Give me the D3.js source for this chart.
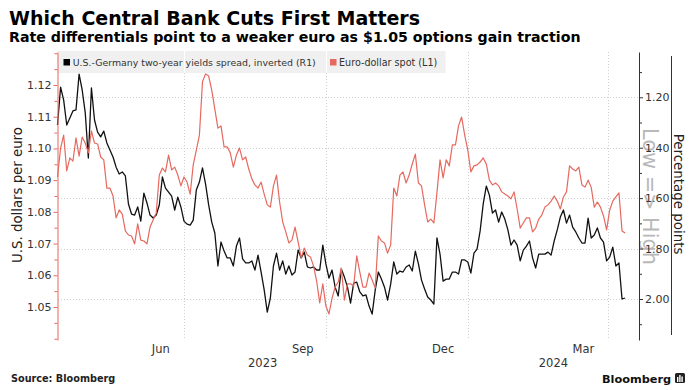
<!DOCTYPE html>
<html>
<head>
<meta charset="utf-8">
<script src="https://cdn.jsdelivr.net/npm/d3@7"></script>
<style>
  body { margin: 0; background: #fff; }
  svg { display: block; }
  text { font-family: "DejaVu Sans", sans-serif; }
</style>
</head>
<body>
<svg id="grafico" width="694" height="390"></svg>
<script>
// series sampled every 2 days from the first date
const start_day = "2023-04-10";
const step_days = 2;

// U.S.-Germany 2y spread, percentage points (right axis, inverted)
const spread_values = [
  1.310, 1.160, 1.211, 1.310, 1.282, 1.254, 1.250, 1.108, 1.171, 1.262,
  1.441, 1.163, 1.290, 1.338, 1.357, 1.334, 1.381, 1.409, 1.437, 1.477,
  1.504, 1.496, 1.512, 1.623, 1.663, 1.667, 1.635, 1.691, 1.580, 1.619,
  1.667, 1.679, 1.667, 1.627, 1.516, 1.560, 1.576, 1.592, 1.647, 1.596,
  1.635, 1.691, 1.703, 1.707, 1.687, 1.568, 1.536, 1.480, 1.544, 1.627,
  1.695, 1.738, 1.869, 1.774, 1.810, 1.837, 1.837, 1.869, 1.790, 1.758,
  1.841, 1.857, 1.857, 1.849, 1.885, 1.826, 1.893, 1.964, 2.052, 1.996,
  1.869, 1.818, 1.885, 1.849, 1.901, 1.869, 1.905, 1.893, 1.806, 1.837,
  1.814, 1.873, 1.877, 1.873, 1.885, 1.885, 1.786, 1.861, 1.917, 1.885,
  1.953, 1.988, 1.881, 1.913, 1.953, 2.016, 1.937, 1.933, 1.972, 1.988,
  1.984, 2.028, 2.060, 1.964, 1.893, 1.921, 1.953, 2.004, 1.941, 1.853,
  1.901, 1.889, 1.893, 1.873, 1.865, 1.889, 1.810, 1.861, 1.925, 1.960,
  1.992, 2.004, 2.020, 1.758, 1.822, 1.929, 1.921, 1.921, 1.893, 1.893,
  1.901, 1.845, 1.845, 1.853, 1.897, 1.818, 1.802, 1.730, 1.623, 1.552,
  1.588, 1.659, 1.647, 1.695, 1.655, 1.683, 1.726, 1.786, 1.766, 1.786,
  1.849, 1.806, 1.790, 1.770, 1.837, 1.877, 1.822, 1.822, 1.822, 1.814,
  1.826, 1.770, 1.726, 1.675, 1.647, 1.699, 1.667, 1.715, 1.734, 1.758,
  1.778, 1.778, 1.679, 1.758, 1.746, 1.718, 1.758, 1.774, 1.849, 1.834,
  1.794, 1.869, 1.857, 2.000, 1.996
];

// Euro-dollar spot, U.S. dollars per euro (left axis)
const spot_values = [
  1.0910, 1.1001, 1.1042, 1.0929, 1.0970, 1.0960, 1.1033, 1.0976, 1.1036, 1.1017,
  1.0986, 1.1055, 1.1017, 1.1014, 1.0973, 1.0964, 1.0875, 1.0875, 1.0850, 1.0781,
  1.0806, 1.0793, 1.0740, 1.0727, 1.0724, 1.0699, 1.0762, 1.0711, 1.0708, 1.0699,
  1.0752, 1.0774, 1.0796, 1.0916, 1.0938, 1.0926, 1.0979, 1.0932, 1.0941, 1.0916,
  1.0882, 1.0910, 1.0894, 1.0856, 1.0948, 1.0995, 1.1042, 1.1210, 1.1235, 1.1228,
  1.1184, 1.1124, 1.1064, 1.1071, 1.1005, 1.1005, 1.0986, 1.0941, 1.0979, 1.1001,
  1.0964, 1.0973, 1.0935, 1.0904, 1.0885, 1.0875, 1.0894, 1.0856, 1.0822, 1.0815,
  1.0882, 1.0916, 1.0831, 1.0768, 1.0737, 1.0702, 1.0711, 1.0752, 1.0705, 1.0655,
  1.0686, 1.0664, 1.0658, 1.0629, 1.0582, 1.0513, 1.0573, 1.0503, 1.0478, 1.0528,
  1.0563, 1.0579, 1.0623, 1.0522, 1.0573, 1.0573, 1.0566, 1.0661, 1.0610, 1.0563,
  1.0563, 1.0607, 1.0585, 1.0560, 1.0724, 1.0708, 1.0702, 1.0670, 1.0696, 1.0875,
  1.0850, 1.0916, 1.0926, 1.0891, 1.0916, 1.0951, 1.0982, 1.0891, 1.0882, 1.0822,
  1.0768, 1.0777, 1.0765, 1.0860, 1.0964, 1.0907, 1.0964, 1.0945, 1.1011, 1.1011,
  1.1071, 1.1099, 1.1042, 1.0995, 1.0926, 1.0945, 1.0948, 1.0957, 1.0970, 1.0951,
  1.0900, 1.0885, 1.0891, 1.0882, 1.0863, 1.0856, 1.0850, 1.0841, 1.0863, 1.0809,
  1.0749, 1.0765, 1.0781, 1.0781, 1.0737, 1.0749, 1.0777, 1.0790, 1.0815, 1.0822,
  1.0834, 1.0850, 1.0834, 1.0809, 1.0847, 1.0863, 1.0945, 1.0935, 1.0929, 1.0941,
  1.0885, 1.0878, 1.0900, 1.0878, 1.0815, 1.0831, 1.0815, 1.0787, 1.0743, 1.0806,
  1.0834, 1.0847, 1.0860, 1.0740, 1.0733
];

const month_labels = ["Jun", "Sep", "Dec", "Mar"];
const month_label_days = ["2023-06-16", "2023-09-16", "2023-12-16", "2024-03-16"];
const grid_days = ["2023-07-01", "2023-10-01", "2024-01-01", "2024-04-01"];
const year_labels = ["2023", "2024"];
const left_ticks = [1.05, 1.06, 1.07, 1.08, 1.09, 1.10, 1.11, 1.12];
const left_minor_ticks = [1.04, 1.045, 1.055, 1.065, 1.075, 1.085, 1.095, 1.105, 1.115, 1.125, 1.13];
const right_ticks = [1.20, 1.40, 1.60, 1.80, 2.00];
const right_minor_ticks = [1.10, 1.30, 1.50, 1.70, 1.90, 2.10];

const legend_items = ["U.S.-Germany two-year yields spread, inverted (R1)", "Euro-dollar spot (L1)"];

const red_color = "#e6695f";
const dark_color = "#111";

const parse_day = d3.timeParse("%Y-%m-%d");
const first_day = parse_day(start_day);
const dates = spread_values.map((d, i) => d3.timeDay.offset(first_day, i * step_days));

const svg = d3.select("#grafico");

const plot_left = 57.5, plot_right = 639, plot_top = 52, plot_bottom = 340;

const x = d3.scaleTime()
  .domain([parse_day("2023-04-10"), parse_day("2024-04-21")])
  .range([plot_left, plot_right]);

const y_left = d3.scaleLinear().domain([1.0396, 1.1304]).range([plot_bottom, plot_top]);
const y_right = d3.scaleLinear().domain([1.0203, 2.1626]).range([plot_top, plot_bottom]);

// titles
svg.append("text").attr("x", 9).attr("y", 25)
  .attr("font-size", 19).attr("font-weight", "bold").attr("fill", "#000")
  .text("Which Central Bank Cuts First Matters");
svg.append("text").attr("x", 9).attr("y", 41.5)
  .attr("font-size", 14.2).attr("font-weight", "bold").attr("fill", "#000")
  .text("Rate differentials point to a weaker euro as $1.05 options gain traction");

// grid
const grid = svg.append("g").attr("shape-rendering", "crispEdges");
grid.selectAll(".hgrid").data(right_ticks).enter().append("line")
  .attr("x1", plot_left).attr("x2", plot_right)
  .attr("y1", d => Math.round(y_right(d)) + 0.5).attr("y2", d => Math.round(y_right(d)) + 0.5)
  .attr("stroke", "#cfcfcf").attr("stroke-dasharray", "1,2");
grid.selectAll(".vgrid").data(grid_days).enter().append("line")
  .attr("x1", d => Math.round(x(parse_day(d))) + 0.5).attr("x2", d => Math.round(x(parse_day(d))) + 0.5)
  .attr("y1", plot_top).attr("y2", plot_bottom)
  .attr("stroke", "#cfcfcf").attr("stroke-dasharray", "1,2");

// legend box
const legend = svg.append("g");
legend.append("rect").attr("x", plot_left).attr("y", 51).attr("width", 388).attr("height", 22)
  .attr("fill", "#f0f0f0");
legend.selectAll(".sep").data(grid_days.slice(0, 2)).enter().append("line")
  .attr("x1", d => Math.round(x(parse_day(d))) + 0.5).attr("x2", d => Math.round(x(parse_day(d))) + 0.5)
  .attr("y1", 51).attr("y2", 73).attr("stroke", "#fff").attr("shape-rendering", "crispEdges");
legend.append("rect").attr("x", 63.5).attr("y", 59).attr("width", 6.5).attr("height", 6.5).attr("fill", "#000");
legend.append("text").attr("x", 72.7).attr("y", 66).attr("font-size", 9.4).attr("fill", "#333")
  .text(legend_items[0]);
legend.append("rect").attr("x", 330).attr("y", 59).attr("width", 6.5).attr("height", 6.5).attr("fill", red_color);
legend.append("text").attr("x", 339).attr("y", 66).attr("font-size", 9.6).attr("fill", "#333")
  .text(legend_items[1]);

// series
const spread_line = d3.line()
  .x((d, i) => x(dates[i]))
  .y(d => y_right(d));
const spot_line = d3.line()
  .x((d, i) => x(dates[i]))
  .y(d => y_left(d));

svg.append("path").datum(spread_values)
  .attr("d", spread_line).attr("fill", "none")
  .attr("stroke", dark_color).attr("stroke-width", 1.3).attr("stroke-linejoin", "round");
svg.append("path").datum(spot_values)
  .attr("d", spot_line).attr("fill", "none")
  .attr("stroke", red_color).attr("stroke-width", 1.2).attr("stroke-linejoin", "round");

// left axis
const left_axis = svg.append("g").attr("transform", `translate(${plot_left},0)`)
  .call(d3.axisLeft(y_left).tickValues(left_ticks).tickSize(4).tickSizeOuter(0).tickPadding(2)
    .tickFormat(d3.format(".2f")));
svg.append("g").attr("transform", `translate(${plot_left},0)`)
  .call(d3.axisLeft(y_left).tickValues(left_minor_ticks).tickSize(3).tickSizeOuter(0).tickFormat(""))
  .call(g => g.select(".domain").remove())
  .selectAll("line").attr("stroke", red_color);
left_axis.select(".domain").attr("stroke", red_color);
left_axis.selectAll("line").attr("stroke", red_color);
left_axis.selectAll("text").attr("font-size", 11).attr("fill", "#333").attr("font-family", "DejaVu Sans");

// right axis
const right_axis = svg.append("g").attr("transform", `translate(${plot_right},0)`)
  .call(d3.axisRight(y_right).tickValues(right_ticks).tickSize(4).tickSizeOuter(0).tickPadding(2)
    .tickFormat(d3.format(".2f")));
svg.append("g").attr("transform", `translate(${plot_right},0)`)
  .call(d3.axisRight(y_right).tickValues(right_minor_ticks).tickSize(3).tickSizeOuter(0).tickFormat(""))
  .call(g => g.select(".domain").remove())
  .selectAll("line").attr("stroke", "#333");
right_axis.select(".domain").attr("stroke", "#333");
right_axis.selectAll("line").attr("stroke", "#333");

// low => high note, sits behind the right tick labels
svg.insert("text", () => right_axis.node())
  .attr("transform", "translate(643,196.5) rotate(90)")
  .attr("text-anchor", "middle").attr("font-size", 20.8).attr("fill", "#b9b9b9")
  .text("Low => High");
right_axis.selectAll("text").attr("font-size", 11).attr("fill", "#333").attr("font-family", "DejaVu Sans");

// axis titles
svg.append("text")
  .attr("transform", "translate(22,195) rotate(-90)")
  .attr("text-anchor", "middle").attr("font-size", 13.3).attr("fill", "#222")
  .text("U.S. dollars per euro");
svg.append("line").attr("x1", 671.5).attr("x2", 671.5).attr("y1", 56).attr("y2", 335)
  .attr("stroke", "#333").attr("shape-rendering", "crispEdges");
svg.append("text")
  .attr("transform", "translate(674,194) rotate(90)")
  .attr("text-anchor", "middle").attr("font-size", 13.4).attr("fill", "#222")
  .text("Percentage points");

// x axis labels
svg.selectAll(".month").data(month_labels).enter().append("text")
  .attr("x", (d, i) => x(parse_day(month_label_days[i])))
  .attr("y", 353).attr("text-anchor", "middle").attr("font-size", 11.5).attr("fill", "#333")
  .text(d => d);

const [domain_start, domain_end] = x.domain();
svg.selectAll(".year").data(year_labels).enter().append("text")
  .attr("x", d => {
    const a = new Date(Math.max(domain_start, new Date(+d, 0, 1)));
    const b = new Date(Math.min(domain_end, new Date(+d + 1, 0, 1)));
    return (x(a) + x(b)) / 2;
  })
  .attr("y", 366.5).attr("text-anchor", "middle").attr("font-size", 11.5).attr("fill", "#333")
  .text(d => d);

// footer
svg.append("text").attr("x", 11).attr("y", 382)
  .attr("font-size", 9.7).attr("font-weight", "bold").attr("fill", "#222")
  .text("Source: Bloomberg");
svg.append("text").attr("x", 602).attr("y", 383)
  .attr("font-size", 11.3).attr("font-weight", "bold").attr("fill", "#111")
  .text("Bloomberg");
const logo = svg.append("g").attr("transform", "translate(675,373)");
logo.append("rect").attr("width", 10).attr("height", 10).attr("rx", 1.5).attr("fill", "#222");
logo.selectAll(".bar").data([[2, 4, 5], [4.2, 2, 7], [6.4, 3.5, 5.5]]).enter().append("rect")
  .attr("x", d => d[0]).attr("y", d => d[1]).attr("width", 1.4).attr("height", d => d[2])
  .attr("fill", "#fff");
</script>
</body>
</html>
